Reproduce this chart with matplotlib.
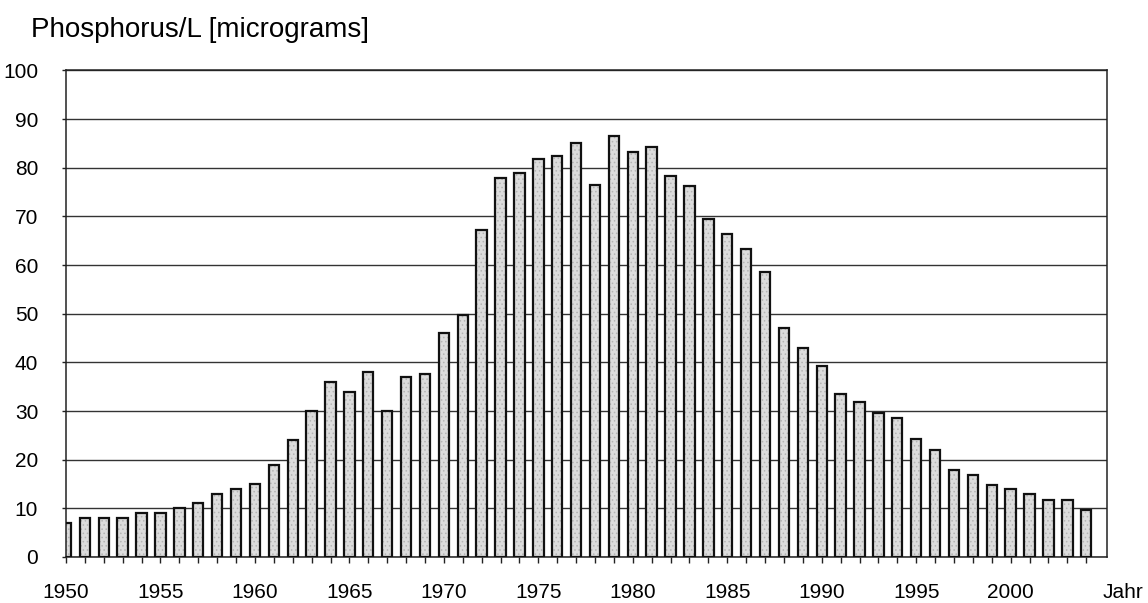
import matplotlib
matplotlib.use("Agg")
import matplotlib.pyplot as plt
import numpy as np

# Annual mean phosphorus concentration (micrograms per litre)
years = list(range(1950, 2005))
phosphorus = [
    7, 8, 8, 8, 9, 9, 10, 11, 13, 14,            # 1950-1959
    15, 19, 24, 30, 36, 34, 38, 30, 37, 37.7,    # 1960-1969
    46, 49.8, 67.2, 78, 79, 81.8, 82.5, 85, 76.5, 86.5,   # 1970-1979
    83.3, 84.2, 78.4, 76.3, 69.4, 66.4, 63.3, 58.5, 47, 43,  # 1980-1989
    39.3, 33.5, 31.8, 29.6, 28.5, 24.2, 22, 17.9, 16.9, 14.9,  # 1990-1999
    13.9, 12.9, 11.8, 11.8, 9.6,                  # 2000-2004
]
yticks = list(range(0, 101, 10))
label_years = [y for y in years if y % 5 == 0]

title_text = "Phosphorus/L [micrograms]"
x_label = "Jahr"

plt.rcParams["font.family"] = ["Liberation Sans", "DejaVu Sans"]
plt.rcParams["hatch.linewidth"] = 0.6

fig = plt.figure(figsize=(11.48, 6.03), dpi=100)
ax = fig.add_axes([0.0575, 0.0763, 0.9068, 0.8068])

ax.set_xlim(1950, 2005.1)
ax.set_ylim(0, 100)

# horizontal grid behind the bars
ax.set_axisbelow(True)
ax.yaxis.grid(True, color="#333333", linewidth=1.0)
ax.xaxis.grid(False)

# stippled fill first, then the dark outlines on top
ax.bar(years, phosphorus, width=0.55, color="#dcdcdc", hatch="....",
       edgecolor="#b4b4b4", linewidth=0, zorder=2)
ax.bar(years, phosphorus, width=0.55, fill=False,
       edgecolor="#111111", linewidth=1.6, zorder=3)

ax.set_yticks(yticks)
ax.set_yticklabels([str(v) for v in yticks], fontsize=15)
ax.set_xticks(years)
ax.set_xticklabels([str(y) if y in label_years else "" for y in years],
                   fontsize=15)

ax.tick_params(axis="x", direction="out", length=4.5, width=1.0,
               color="#222222", pad=14)
ax.tick_params(axis="y", direction="out", length=3, width=1.0,
               color="#222222", pad=17)

for side in ["left", "right", "top", "bottom"]:
    ax.spines[side].set_color("#222222")
    ax.spines[side].set_linewidth(1.1)

fig.text(31 / 1148, 1 - 37 / 603, title_text, fontsize=20,
         ha="left", va="baseline")
fig.text(1123 / 1148, 1 - 593 / 603, x_label, fontsize=15,
         ha="center", va="center")

fig.savefig("out.png", dpi=100, facecolor="white")
